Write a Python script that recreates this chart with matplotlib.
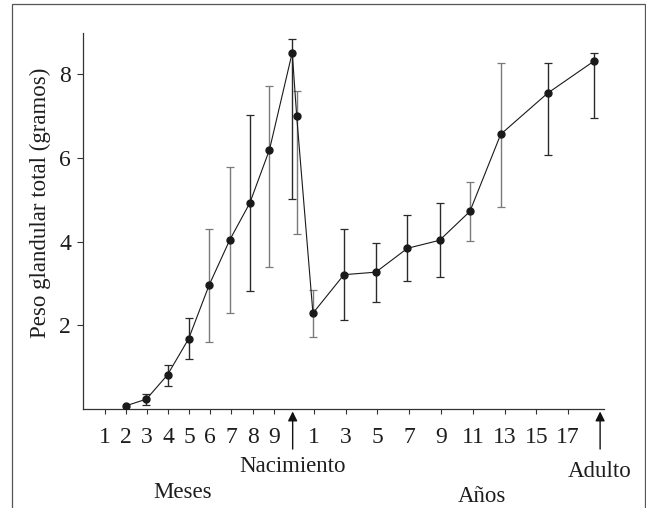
#!/usr/bin/env python3
# -*- coding: utf-8 -*-
"""
Peso glandular total por edad (meses prenatales / años), con barras de error.
"""

import numpy as np
import matplotlib
matplotlib.use("Agg")
import matplotlib.pyplot as plt
from matplotlib.patches import Rectangle

# --- datos ---
# posición en el eje (unidades de "mes"; el nacimiento cae en ~9.9)
age_pos = [1.99, 2.97, 3.97, 4.97, 5.94, 6.92, 7.87, 8.80, 9.88, 10.09,
           10.86, 12.33, 13.84, 15.34, 16.86, 18.30, 19.76, 21.98, 24.16]
peso = [0.08, 0.24, 0.82, 1.68, 2.96, 4.04, 4.92, 6.19, 8.51, 7.00,
        2.29, 3.21, 3.27, 3.84, 4.03, 4.72, 6.56, 7.54, 8.30]
peso_sup = [0.08, 0.37, 1.05, 2.17, 4.30, 5.79, 7.01, 7.72, 8.84, 7.60,
            2.84, 4.30, 3.96, 4.63, 4.93, 5.42, 8.27, 8.27, 8.49]
peso_inf = [0.08, 0.10, 0.56, 1.19, 1.60, 2.30, 2.82, 3.39, 5.01, 4.17,
            1.73, 2.12, 2.56, 3.05, 3.16, 4.01, 4.83, 6.06, 6.96]

tick_pos = [1, 2, 3, 4, 5, 6, 7, 8, 9,
            10.92, 12.42, 13.92, 15.42, 16.92, 18.45, 19.95, 21.45, 22.95]
tick_labels = ["1", "2", "3", "4", "5", "6", "7", "8", "9",
               "1", "3", "5", "7", "9", "11", "13", "15", "17"]
y_ticks = [2, 4, 6, 8]

nacimiento_pos = 9.9
adulto_pos = 24.47

# barras en gris claro vs oscuro (como en el original)
bar_grey = [4, 5, 7, 9, 10, 15, 16]

FONT = "Liberation Serif"


def main():
    plt.rcParams["font.family"] = [FONT, "DejaVu Serif"]
    fig = plt.figure(figsize=(6.46, 5.08), dpi=100)

    # marco de la figura (sin borde inferior)
    fig.patches.append(Rectangle((12 / 646, -0.05), 632.5 / 646, 1.05 - 4 / 508,
                                 transform=fig.transFigure, fill=False,
                                 lw=0.9, edgecolor="#555555"))

    ax = fig.add_axes([82.7 / 646, 1 - 409.2 / 508, 521 / 646, 375.9 / 508])

    x = np.array(age_pos)
    y = np.array(peso)
    lo = y - np.array(peso_inf)
    hi = np.array(peso_sup) - y

    for i in range(len(x)):
        if hi[i] == 0 and lo[i] == 0:
            continue
        c = "#7a7a7a" if i in bar_grey else "#2a2a2a"
        ax.errorbar(x[i], y[i], yerr=[[lo[i]], [hi[i]]], fmt="none",
                    ecolor=c, elinewidth=1.0, capsize=3.0, capthick=0.9, zorder=2)

    ax.plot(x, y, color="#1a1a1a", lw=0.8, zorder=3)
    ax.plot(x, y, "o", color="#1a1a1a", ms=5, zorder=4)

    ax.set_xlim(-0.05, 24.64)
    ax.set_ylim(0, 8.97)

    ax.set_xticks(tick_pos)
    ax.set_xticklabels(tick_labels)
    ax.set_yticks(y_ticks)
    ax.tick_params(axis="x", length=3.5, width=0.8, pad=9, labelsize=17,
                   color="#333333", labelcolor="#1e1e1e")
    ax.tick_params(axis="y", length=4.5, width=0.8, pad=4, labelsize=17,
                   color="#333333", labelcolor="#1e1e1e")

    for side in ("top", "right"):
        ax.spines[side].set_visible(False)
    for side in ("left", "bottom"):
        ax.spines[side].set_linewidth(0.9)
        ax.spines[side].set_color("#333333")

    # flechas de nacimiento y adulto
    for xp in (nacimiento_pos, adulto_pos):
        ax.annotate("", xy=(xp, -0.006), xytext=(xp, -0.106),
                    xycoords=("data", "axes fraction"),
                    textcoords=("data", "axes fraction"),
                    arrowprops=dict(arrowstyle="-|>", color="#111111", lw=1.0,
                                    mutation_scale=14, shrinkA=0, shrinkB=0),
                    annotation_clip=False)

    blend = ax.get_xaxis_transform()
    ax.text(nacimiento_pos, -0.152, "Nacimiento", transform=blend, ha="center",
            va="center", fontsize=16.5, color="#1e1e1e")
    ax.text(adulto_pos, -0.166, "Adulto", transform=blend, ha="center",
            va="center", fontsize=16.5, color="#1e1e1e")
    ax.text(4.70, -0.222, "Meses", transform=blend, ha="center",
            va="center", fontsize=16.5, color="#1e1e1e")
    ax.text(18.86, -0.232, "Años", transform=blend, ha="center",
            va="center", fontsize=16.5, color="#1e1e1e")

    fig.text(40 / 646, 1 - 202.5 / 508, "Peso glandular total (gramos)",
             rotation=90, ha="center", va="center", fontsize=16.5, color="#1e1e1e")

    fig.savefig("out.png", dpi=100)
    plt.close(fig)


if __name__ == "__main__":
    main()
